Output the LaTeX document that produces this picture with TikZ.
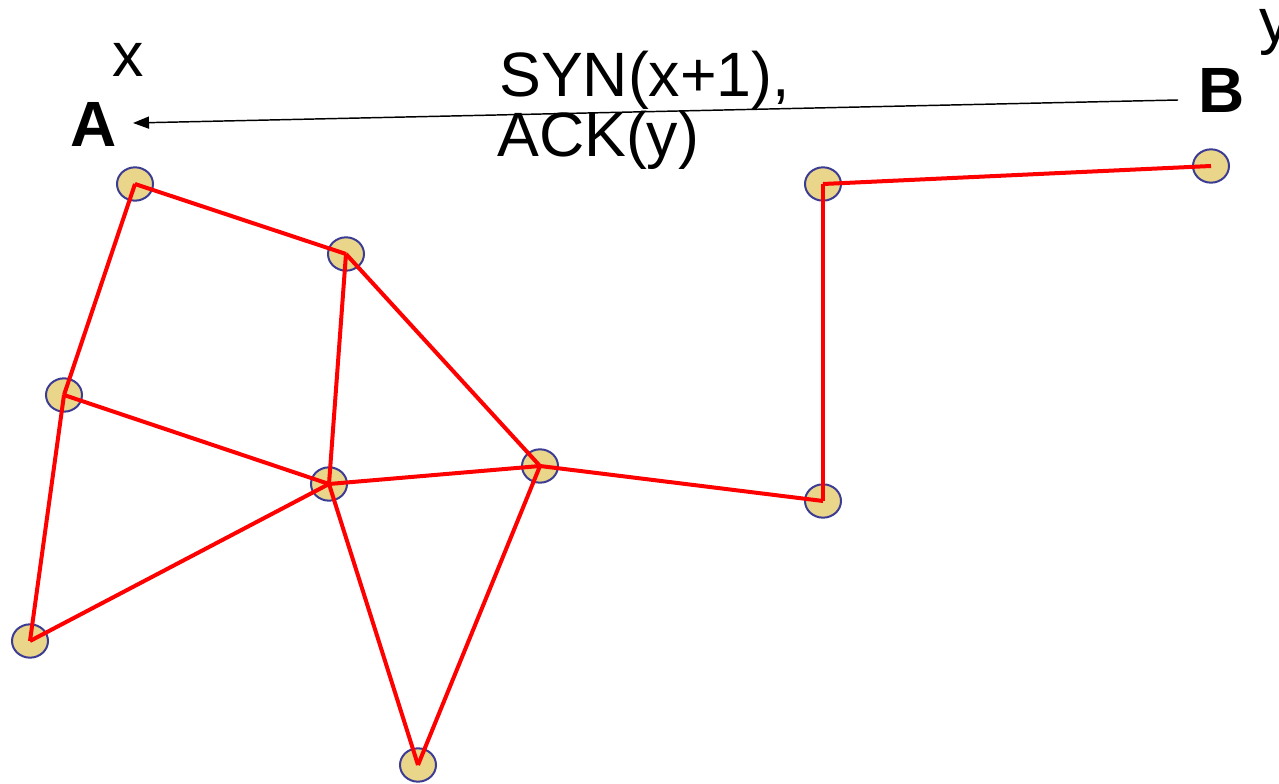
\documentclass[tikz,border=0pt]{standalone}
\usepackage{fontspec}
\setmainfont{Liberation Sans}
\usetikzlibrary{shapes.geometric,arrows.meta}
\definecolor{hostfill}{RGB}{234,214,138}
\definecolor{hostrim}{RGB}{60,60,148}
\begin{document}
\begin{tikzpicture}[x=0.75pt,y=-0.75pt,
  host/.style={ellipse,draw=hostrim,fill=hostfill,line width=1.5pt,
    minimum width=27pt,minimum height=25pt,inner sep=0pt},
  link/.style={red,line width=3pt,line join=miter},
  big/.style={font=\fontsize{47}{56}\selectfont,inner sep=0pt},
  bigb/.style={font=\fontsize{48}{56}\selectfont\bfseries,inner sep=0pt}]
\useasboundingbox (0,0) rectangle (1279,784);

% routers
\node[host] (n1) at (135,184) {};
\node[host] (n2) at (346,254) {};
\node[host] (n3) at (64,395) {};
\node[host] (n4) at (329,484) {};
\node[host] (n5) at (540,466) {};
\node[host] (n6) at (30,641) {};
\node[host] (n7) at (418,765) {};
\node[host] (n8) at (823,501) {};
\node[host] (n9) at (823,184) {};
\node[host] (n10) at (1211,166) {};

% links
\draw[link] (n1.center) -- (n2.center);
\draw[link] (n1.center) -- (n3.center);
\draw[link] (n2.center) -- (n4.center);
\draw[link] (n2.center) -- (n5.center);
\draw[link] (n3.center) -- (n4.center);
\draw[link] (n3.center) -- (n6.center);
\draw[link] (n6.center) -- (n4.center);
\draw[link] (n4.center) -- (n5.center);
\draw[link] (n4.center) -- (n7.center);
\draw[link] (n7.center) -- (n5.center);
\draw[link] (n5.center) -- (n8.center);
\draw[link] (n8.center) -- (n9.center);
\draw[link] (n9.center) -- (n10.center);

% end hosts and sequence numbers
\node[bigb,anchor=base] (A) at (94,147) {A};
\node[bigb,anchor=base] (B) at (1222,113) {B};
\node[big,anchor=base] (x) at (128,77) {x};
\node[big,anchor=base west] (y) at (1259,43) {y};

% handshake message
\coordinate (bout) at (1178,100);
\coordinate (ain) at (133,123);
\draw[line width=1.1pt,-{Triangle[length=12pt,width=9pt]}] (bout) -- (ain);
\node[big,anchor=base west] (syn) at (499,97) {SYN(x+1),};
\node[big,anchor=base west] (ack) at (497,157) {ACK(y)};
\end{tikzpicture}
\end{document}
